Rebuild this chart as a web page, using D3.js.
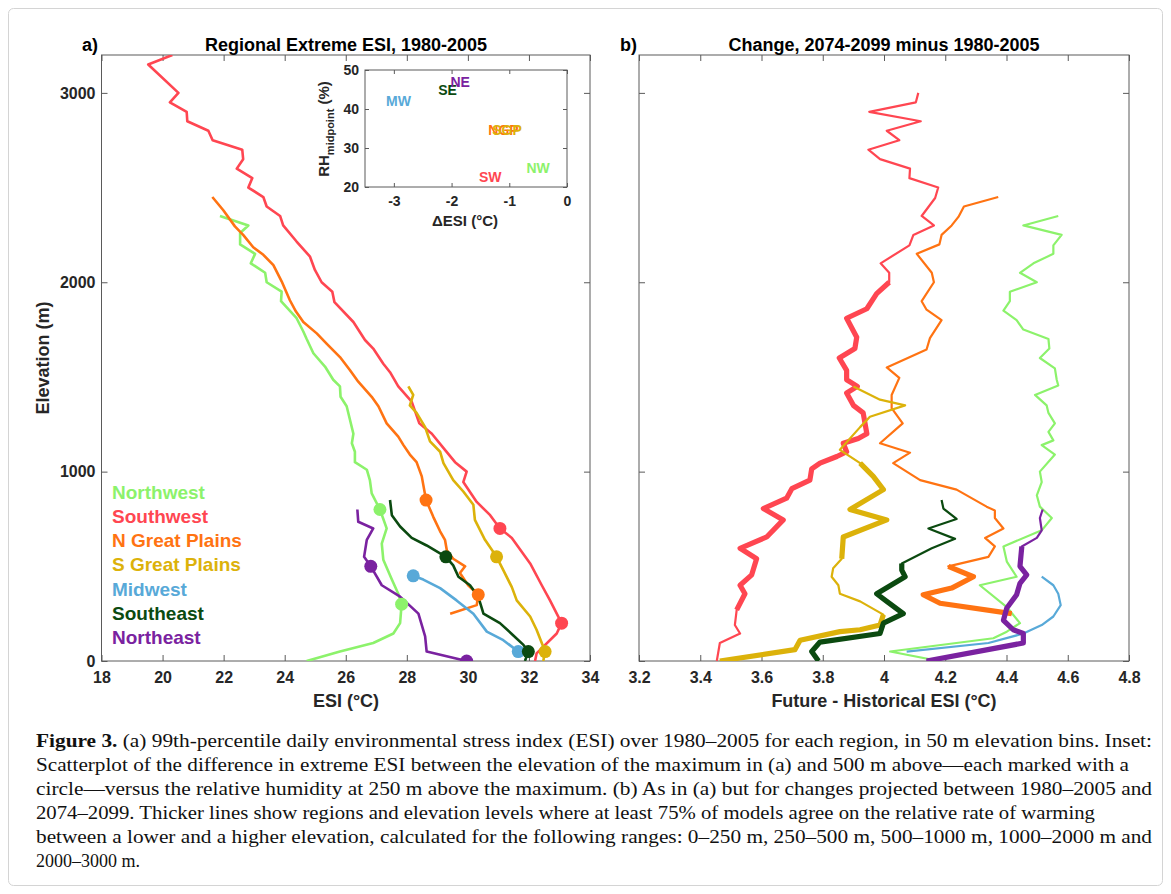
<!DOCTYPE html>
<html>
<head>
<meta charset="utf-8">
<script src="https://cdn.jsdelivr.net/npm/d3@7"></script>
<style>
body{margin:0;background:#fff;}
text{font-family:"Liberation Sans",Arial,Helvetica,sans-serif;}
.cap{font-family:"Liberation Serif","Times New Roman",serif;}
</style>
</head>
<body>
<svg id="fig" width="1171" height="894"></svg>
<script>
// region names + colours
var regions = ['Northwest','Southwest','N Great Plains','S Great Plains','Midwest','Southeast','Northeast'];
var colors = ['#8cf26b','#ff4651','#ff7312','#dcb20a','#58a9d8','#0b4a10','#7a22a0'];

// panel a : [elevation (m), ESI (C)]
var nwA = [[2350,21.88],[2300,22.81],[2260,22.54],[2200,22.54],[2150,23.03],[2100,22.89],[2050,23.36],[2000,23.41],[1950,23.90],[1900,23.88],[1810,24.39],[1740,24.61],[1700,24.72],[1625,24.94],[1555,25.32],[1485,25.59],[1450,25.81],[1395,25.83],[1345,26.03],[1200,26.25],[1150,26.20],[1105,26.30],[1050,26.30],[1010,26.69],[955,26.79],[885,26.85],[800,27.12],[700,27.34],[620,27.18],[535,27.23],[430,27.51],[355,27.72],[300,27.83],[200,27.78],[145,27.56],[95,26.90],[50,25.81],[0,24.72]];
var swA = [[3200,20.32],[3150,19.53],[3000,20.52],[2950,20.24],[2900,20.79],[2850,20.81],[2800,21.50],[2750,21.64],[2700,22.61],[2650,22.64],[2600,22.43],[2550,22.94],[2500,22.81],[2450,23.30],[2400,23.41],[2350,23.85],[2300,23.95],[2215,24.39],[2135,24.83],[2065,24.99],[2000,25.21],[1950,25.56],[1895,25.63],[1790,26.25],[1695,26.63],[1650,26.90],[1570,27.23],[1525,27.45],[1450,27.72],[1370,28.16],[1255,28.41],[1200,28.82],[1115,29.25],[1050,29.58],[1000,29.96],[945,29.85],[840,30.29],[770,30.73],[700,31.05],[650,31.44],[515,32.04],[400,32.42],[320,32.69],[200,33.07],[145,32.91],[40,32.25],[0,32.20]];
var ngpA = [[2450,21.63],[2380,21.99],[2295,22.37],[2250,22.64],[2185,22.97],[2145,23.30],[2090,23.63],[2005,23.90],[1905,24.17],[1845,24.37],[1790,24.61],[1730,25.05],[1675,25.38],[1605,25.81],[1535,26.14],[1475,26.41],[1395,26.85],[1345,27.07],[1255,27.34],[1185,27.72],[1140,27.89],[1090,28.10],[1050,28.32],[975,28.49],[930,28.54],[850,28.63],[760,28.87],[685,29.09],[640,29.25],[585,29.31],[540,29.52],[500,29.91],[465,29.74],[400,30.01],[350,30.34],[295,30.29],[250,29.42]];
var sgpA = [[1450,28.05],[1405,28.21],[1350,28.10],[1310,28.32],[1235,28.60],[1160,28.76],[1105,29.09],[1045,29.20],[955,29.52],[895,29.85],[825,30.18],[745,30.23],[640,30.56],[550,30.94],[480,31.16],[390,31.44],[320,31.60],[235,32.04],[165,32.25],[50,32.53],[0,32.47]];
var mwA = [[450,28.21],[430,28.54],[385,29.09],[320,29.63],[250,30.18],[155,30.62],[110,31.16],[50,31.65]];
var seA = [[850,27.45],[770,27.51],[710,27.78],[650,28.16],[610,28.65],[550,29.28],[505,29.52],[445,29.69],[400,30.07],[340,30.34],[250,30.51],[200,31.05],[135,31.49],[85,31.82],[50,31.98],[0,31.87]];
var neA = [[800,26.38],[735,26.41],[700,26.90],[640,26.69],[550,26.60],[500,26.82],[400,27.18],[340,27.78],[250,28.38],[130,28.60],[50,28.65],[0,29.96]];

// circles: maximum and 500 m above
var nwDots = [[800,27.12],[300,27.83]];
var swDots = [[700,31.05],[200,33.07]];
var ngpDots = [[850,28.63],[350,30.34]];
var sgpDots = [[550,30.94],[50,32.53]];
var mwDots = [[450,28.21],[50,31.65]];
var seDots = [[550,29.28],[50,31.98]];
var neDots = [[500,26.82],[0,29.96]];

// panel b : [elevation, future - historical ESI]
var nwB = [[2350,4.569],[2300,4.455],[2250,4.580],[2195,4.553],[2150,4.553],[2100,4.488],[2050,4.444],[2000,4.499],[1950,4.411],[1900,4.411],[1850,4.390],[1800,4.433],[1750,4.455],[1700,4.537],[1650,4.540],[1600,4.509],[1545,4.558],[1485,4.564],[1455,4.569],[1405,4.493],[1350,4.531],[1310,4.537],[1255,4.558],[1210,4.537],[1165,4.553],[1140,4.515],[1090,4.558],[1000,4.509],[945,4.515],[875,4.499],[815,4.509],[755,4.548],[690,4.515],[605,4.390],[525,4.401],[445,4.433],[400,4.313],[285,4.401],[200,4.444],[155,4.401],[120,4.357],[50,4.020],[0,4.180]];
var swB = [[3000,4.112],[2950,4.104],[2900,3.952],[2850,4.120],[2800,4.009],[2750,4.050],[2700,3.949],[2650,3.987],[2600,4.085],[2550,4.083],[2500,4.177],[2445,4.167],[2350,4.123],[2300,4.163],[2250,4.096],[2195,4.083],[2100,3.989],[2050,4.017],[2000,4.017],[1940,3.976],[1860,3.944],[1810,3.878],[1710,3.911],[1650,3.905],[1600,3.854],[1535,3.878],[1485,3.878],[1450,3.913],[1415,3.878],[1350,3.900],[1310,3.932],[1200,3.944],[1175,3.916],[1150,3.867],[1105,3.878],[1080,3.846],[1045,3.791],[1015,3.764],[955,3.758],[910,3.699],[860,3.682],[805,3.606],[745,3.671],[655,3.617],[595,3.530],[540,3.584],[455,3.568],[400,3.530],[355,3.546],[270,3.519],[190,3.513],[145,3.530],[95,3.464],[0,3.454]];
var ngpB = [[2450,4.373],[2400,4.261],[2345,4.243],[2300,4.221],[2250,4.188],[2200,4.181],[2150,4.107],[2050,4.156],[2000,4.163],[1900,4.123],[1855,4.139],[1800,4.188],[1705,4.150],[1645,4.139],[1550,4.009],[1495,4.050],[1405,4.025],[1335,4.025],[1255,4.061],[1150,3.987],[1100,4.085],[1045,4.030],[955,4.118],[905,4.237],[815,4.335],[795,4.362],[755,4.362],[700,4.390],[650,4.330],[605,4.362],[550,4.341],[500,4.210],[445,4.292],[385,4.221],[350,4.128],[305,4.183],[250,4.417]];
var sgpB = [[1450,3.900],[1380,3.987],[1350,4.069],[1290,3.954],[1235,3.922],[1115,3.856],[1045,3.922],[975,3.965],[905,3.998],[800,3.889],[745,4.009],[655,3.867],[540,3.862],[490,3.834],[445,3.829],[400,3.851],[355,3.856],[315,3.922],[245,3.998],[190,3.987],[165,3.922],[155,3.856],[110,3.726],[60,3.709],[0,3.464]];
var mwB = [[445,4.515],[400,4.553],[355,4.569],[295,4.577],[235,4.553],[190,4.515],[145,4.455],[95,4.341],[50,4.074]];
var seB = [[850,4.188],[805,4.194],[750,4.237],[700,4.145],[645,4.232],[595,4.156],[515,4.058],[480,4.058],[445,4.069],[355,3.976],[315,4.009],[250,4.063],[200,3.998],[145,3.987],[100,3.791],[50,3.764],[0,3.786]];
var neB = [[800,4.518],[755,4.509],[690,4.515],[650,4.499],[605,4.450],[500,4.444],[455,4.466],[410,4.444],[350,4.433],[280,4.401],[215,4.390],[165,4.422],[145,4.455],[95,4.455],[0,4.139]];

// elevation ranges where 75% of models agree (thick)
var nwThick = [];
var swThick = [[265,2010]];
var ngpThick = [[245,505]];
var sgpThick = [[0,250],[535,1050]];
var mwThick = [];
var seThick = [[0,520]];
var neThick = [[0,610]];

// inset
var insetLabels = ['NW','SW','NGP','SGP','MW','SE','NE'];
var insetDesi = [-0.50,-1.33,-1.10,-1.04,-2.92,-2.07,-1.85];
var insetRh = [24.8,22.5,34.6,34.6,42.1,44.9,46.8];

// ticks
var yTicks = [0,1000,2000,3000];
var xaTicks = [18,20,22,24,26,28,30,32,34];
var xbTicks = [3.2,3.4,3.6,3.8,4,4.2,4.4,4.6,4.8];
var xiTicks = [-3,-2,-1,0];
var yiTicks = [20,30,40,50];

var linesA = [nwA,swA,ngpA,sgpA,mwA,seA,neA];
var dotsA = [nwDots,swDots,ngpDots,sgpDots,mwDots,seDots,neDots];
var linesB = [nwB,swB,ngpB,sgpB,mwB,seB,neB];
var thickB = [nwThick,swThick,ngpThick,sgpThick,mwThick,seThick,neThick];

var svg = d3.select('#fig');
var axisCol = '#5a5a5a';
var txtCol = '#262626';
var plain = function(d){ return String(d); };   // "-3" with a hyphen, like matlab

// frame around figure
svg.append('rect').attr('x',8.5).attr('y',8.5).attr('width',1154).attr('height',877)
   .attr('rx',5).attr('fill','none').attr('stroke','#d4d4d4');

var xa = d3.scaleLinear().domain([18,34]).range([101.5,590]);
var xb = d3.scaleLinear().domain([3.2,4.8]).range([639,1129]);
var y = d3.scaleLinear().domain([0,3200]).range([661,55]);

function styleAxis(g, fs){
  g.select('.domain').remove();
  g.selectAll('line').attr('stroke',axisCol);
  g.selectAll('text').attr('font-size',fs).attr('font-weight','bold').attr('fill',txtCol)
   .attr('font-family','"Liberation Sans",Arial,sans-serif');
}

function drawBox(x, yy, labels, id){
  var x0 = x.range()[0], x1 = x.range()[1], y0 = yy.range()[1], y1 = yy.range()[0];
  svg.append('clipPath').attr('id',id).append('rect')
     .attr('x',x0).attr('y',y0).attr('width',x1-x0).attr('height',y1-y0);
  svg.append('g').attr('transform','translate(0,'+y1+')')
     .call(d3.axisBottom(x).tickValues(labels.xt).tickSize(-6).tickSizeOuter(0).tickPadding(10.5).tickFormat(labels.xf))
     .call(styleAxis,16);
  svg.append('g').attr('transform','translate(0,'+y0+')')
     .call(d3.axisTop(x).tickValues(labels.xt).tickSize(-6).tickSizeOuter(0).tickFormat(''))
     .call(styleAxis,16);
  svg.append('g').attr('transform','translate('+x0+',0)')
     .call(d3.axisLeft(yy).tickValues(yTicks).tickSize(-6).tickSizeOuter(0).tickPadding(6).tickFormat(labels.yf))
     .call(styleAxis,16);
  svg.append('g').attr('transform','translate('+x1+',0)')
     .call(d3.axisRight(yy).tickValues(yTicks).tickSize(-6).tickSizeOuter(0).tickFormat(''))
     .call(styleAxis,16);
  svg.append('rect').attr('x',x0).attr('y',y0).attr('width',x1-x0).attr('height',y1-y0)
     .attr('fill','none').attr('stroke',axisCol).attr('stroke-width',1);
}

drawBox(xa, y, {xt:xaTicks, xf:plain, yf:plain}, 'clipA');
drawBox(xb, y, {xt:xbTicks, xf:plain, yf:''}, 'clipB');

// panel a lines
var lineA = d3.line().x(function(d){return xa(d[1]);}).y(function(d){return y(d[0]);});
var gA = svg.append('g').attr('clip-path','url(#clipA)');
linesA.forEach(function(s,i){
  gA.append('path').attr('d',lineA(s)).attr('fill','none').attr('stroke',colors[i])
    .attr('stroke-width',2.6).attr('stroke-linejoin','round');
});
dotsA.forEach(function(s,i){
  gA.selectAll(null).data(s).enter().append('circle')
    .attr('cx',function(d){return xa(d[1]);}).attr('cy',function(d){return y(d[0]);})
    .attr('r',6.5).attr('fill',colors[i]);
});

// legend
svg.selectAll('.leg').data(regions).enter().append('text').attr('class','leg')
   .attr('x',112).attr('y',function(d,i){return 492+i*24.3;})
   .attr('dominant-baseline','central')
   .attr('font-size',19).attr('font-weight','bold')
   .attr('fill',function(d,i){return colors[i];})
   .text(function(d){return d;});

// panel b lines, thick where models agree
var lineB = d3.line().x(function(d){return xb(d[1]);}).y(function(d){return y(d[0]);});
var gB = svg.append('g').attr('clip-path','url(#clipB)');
linesB.forEach(function(s,i){
  gB.append('path').attr('d',lineB(s)).attr('fill','none').attr('stroke',colors[i])
    .attr('stroke-width',2.2).attr('stroke-linejoin','round');
  thickB[i].forEach(function(r){
    var part = s.filter(function(d){return d[0]>=r[0] && d[0]<=r[1];});
    gB.append('path').attr('d',lineB(part)).attr('fill','none').attr('stroke',colors[i])
      .attr('stroke-width',5.2).attr('stroke-linejoin','round');
  });
});

// titles
svg.append('text').attr('x',82).attr('y',51).attr('font-size',18).attr('font-weight','bold').text('a)');
svg.append('text').attr('x',346).attr('y',51).attr('text-anchor','middle').attr('font-size',18).attr('font-weight','bold').text('Regional Extreme ESI, 1980-2005');
svg.append('text').attr('x',620).attr('y',51).attr('font-size',18).attr('font-weight','bold').text('b)');
svg.append('text').attr('x',884).attr('y',51).attr('text-anchor','middle').attr('font-size',18).attr('font-weight','bold').text('Change, 2074-2099 minus 1980-2005');

svg.append('text').attr('x',346).attr('y',707).attr('text-anchor','middle').attr('font-size',18).attr('font-weight','bold').attr('fill',txtCol).text('ESI (°C)');
svg.append('text').attr('x',884).attr('y',707).attr('text-anchor','middle').attr('font-size',18).attr('font-weight','bold').attr('fill',txtCol).text('Future - Historical ESI (°C)');
svg.append('text').attr('transform','translate(49,358) rotate(-90)').attr('text-anchor','middle')
   .attr('font-size',18).attr('font-weight','bold').attr('fill',txtCol).text('Elevation (m)');

// inset
var xi = d3.scaleLinear().domain([-3.5,0]).range([365,567]);
var yi = d3.scaleLinear().domain([20,50]).range([187,70]);
svg.append('rect').attr('x',365).attr('y',70).attr('width',202).attr('height',117).attr('fill','#fff');
svg.append('g').attr('transform','translate(0,187)')
   .call(d3.axisBottom(xi).tickValues(xiTicks).tickSize(-4).tickSizeOuter(0).tickPadding(9).tickFormat(plain))
   .call(styleAxis,14);
svg.append('g').attr('transform','translate(0,70)')
   .call(d3.axisTop(xi).tickValues(xiTicks).tickSize(-4).tickSizeOuter(0).tickFormat(''))
   .call(styleAxis,14);
svg.append('g').attr('transform','translate(365,0)')
   .call(d3.axisLeft(yi).tickValues(yiTicks).tickSize(-4).tickSizeOuter(0).tickPadding(6).tickFormat(plain))
   .call(styleAxis,14);
svg.append('g').attr('transform','translate(567,0)')
   .call(d3.axisRight(yi).tickValues(yiTicks).tickSize(-4).tickSizeOuter(0).tickFormat(''))
   .call(styleAxis,14);
svg.append('rect').attr('x',365).attr('y',70).attr('width',202).attr('height',117)
   .attr('fill','none').attr('stroke',axisCol);

svg.selectAll('.ilab').data(insetLabels).enter().append('text').attr('class','ilab')
   .attr('x',function(d,i){return xi(insetDesi[i]);}).attr('y',function(d,i){return yi(insetRh[i]);})
   .attr('text-anchor','middle').attr('dominant-baseline','central')
   .attr('font-size',14).attr('font-weight','bold')
   .attr('fill',function(d,i){return colors[i];}).text(function(d){return d;});

svg.append('text').attr('x',465).attr('y',226).attr('text-anchor','middle').attr('font-size',15)
   .attr('font-weight','bold').attr('fill',txtCol).text('ΔESI (°C)');
var rh = svg.append('text').attr('transform','translate(329,129) rotate(-90)').attr('text-anchor','middle')
   .attr('font-size',15).attr('font-weight','bold').attr('fill',txtCol);
rh.append('tspan').text('RH');
rh.append('tspan').attr('font-size',11).attr('dy',5).text('midpoint');
rh.append('tspan').attr('dy',-5).text(' (%)');

// caption
var capLines = [
  ['Figure 3.', ' (a) 99th-percentile daily environmental stress index (ESI) over 1980–2005 for each region, in 50 m elevation bins. Inset:'],
  ['', 'Scatterplot of the difference in extreme ESI between the elevation of the maximum in (a) and 500 m above—each marked with a'],
  ['', 'circle—versus the relative humidity at 250 m above the maximum. (b) As in (a) but for changes projected between 1980–2005 and'],
  ['', '2074–2099. Thicker lines show regions and elevation levels where at least 75% of models agree on the relative rate of warming'],
  ['', 'between a lower and a higher elevation, calculated for the following ranges: 0–250 m, 250–500 m, 500–1000 m, 1000–2000 m and'],
  ['', '2000–3000 m.']
];
var capWidths = [1116,1093,1116,1059,1116,null];
capLines.forEach(function(l,i){
  var t = svg.append('text').attr('class','cap').attr('x',36).attr('y',747+i*24)
     .attr('font-size',18).attr('fill','#111');
  if(capWidths[i]) t.attr('textLength',capWidths[i]).attr('lengthAdjust','spacingAndGlyphs');
  if(l[0]) t.append('tspan').attr('font-weight','bold').text(l[0]);
  t.append('tspan').text(l[1]);
});
</script>
</body>
</html>
